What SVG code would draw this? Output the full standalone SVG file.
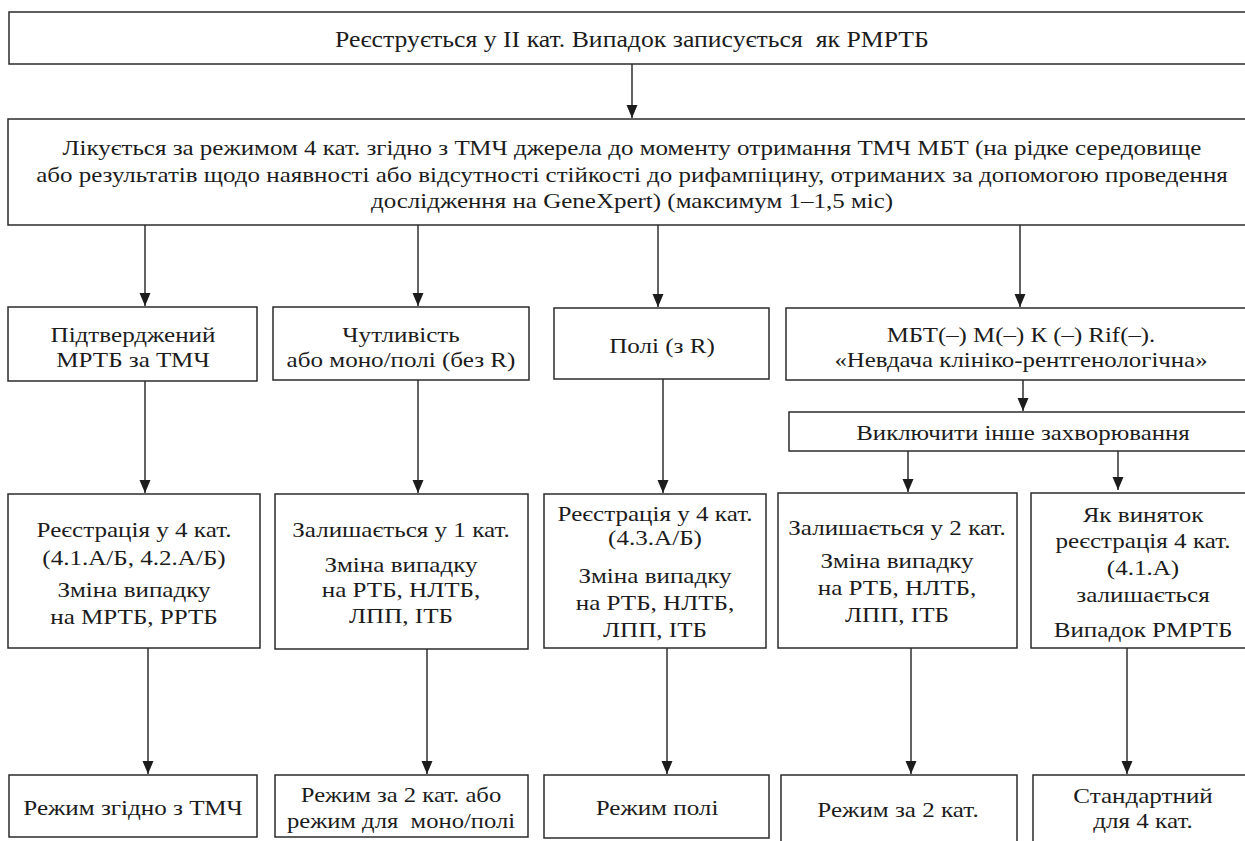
<svg xmlns="http://www.w3.org/2000/svg" width="1245" height="841" viewBox="0 0 1245 841">
<style>
.b{fill:#fff;stroke:#2b2b2b;stroke-width:1.5}
.t{font-family:"Liberation Serif","Times New Roman",serif;font-size:22px;fill:#1c1c1c;text-anchor:middle}
.s{font-size:21px}
.l{font-size:23px}
.c{stroke:#222;stroke-width:1.4;fill:none;marker-end:url(#ah)}
</style>
<defs>
<marker id="ah" markerUnits="userSpaceOnUse" markerWidth="14" markerHeight="12" refX="13" refY="6" orient="auto">
<path d="M0,0.5 L13,6 L0,11.5 Z" fill="#1c1c1c"/>
</marker>
</defs>
<rect width="1245" height="841" fill="#fff"/>
<g id="connectors">
<line class="c" x1="632" y1="64" x2="632" y2="118"/>
<line class="c" x1="145" y1="225" x2="145" y2="306"/>
<line class="c" x1="418" y1="225" x2="418" y2="306"/>
<line class="c" x1="658" y1="225" x2="658" y2="307"/>
<line class="c" x1="1020" y1="225" x2="1020" y2="307"/>
<line class="c" x1="145" y1="381" x2="145" y2="493"/>
<line class="c" x1="418" y1="380" x2="418" y2="493"/>
<line class="c" x1="663" y1="379" x2="663" y2="493"/>
<line class="c" x1="1023" y1="380" x2="1023" y2="411"/>
<line class="c" x1="908" y1="451" x2="908" y2="492"/>
<line class="c" x1="1118" y1="451" x2="1118" y2="490"/>
<line class="c" x1="148" y1="648" x2="148" y2="774"/>
<line class="c" x1="427" y1="649" x2="427" y2="774"/>
<line class="c" x1="667" y1="648" x2="667" y2="774"/>
<line class="c" x1="911" y1="648" x2="911" y2="774"/>
<line class="c" x1="1127" y1="648" x2="1127" y2="774"/>
</g>
<g id="n-top">
<rect class="b" x="9" y="12" width="1260" height="52"/>
<text class="t l" xml:space="preserve" transform="translate(632 0) scale(1.12 1)"><tspan x="0" y="47">Реєструється у ІІ кат. Випадок записується  як РМРТБ</tspan></text>
</g>
<g id="n-treat">
<rect class="b" x="8" y="119" width="1260" height="106"/>
<text class="t s" transform="translate(632 0) scale(1.19 1)"><tspan x="0" y="155">Лікується за режимом 4 кат. згідно з ТМЧ джерела до моменту отримання ТМЧ МБТ (на рідке середовище</tspan><tspan x="0" y="182">або результатів щодо наявності або відсутності стійкості до рифампіцину, отриманих за допомогою проведення</tspan><tspan x="0" y="208">дослідження на GeneXpert) (максимум 1–1,5 міс)</tspan></text>
</g>
<g id="n-a3">
<rect class="b" x="8" y="307" width="249" height="74"/>
<text class="t" transform="translate(133 0) scale(1.14 1)"><tspan x="0" y="342">Підтверджений</tspan><tspan x="0" y="367">МРТБ за ТМЧ</tspan></text>
</g>
<g id="n-b3">
<rect class="b" x="273" y="307" width="256" height="73"/>
<text class="t" transform="translate(401 0) scale(1.14 1)"><tspan x="0" y="342">Чутливість</tspan><tspan x="0" y="367">або моно/полі (без R)</tspan></text>
</g>
<g id="n-c3">
<rect class="b" x="554" y="308" width="215" height="71"/>
<text class="t" transform="translate(662 0) scale(1.14 1)"><tspan x="0" y="353">Полі (з R)</tspan></text>
</g>
<g id="n-d3">
<rect class="b" x="786" y="308" width="480" height="72"/>
<text class="t" transform="translate(1021 0) scale(1.13 1)"><tspan x="0" y="342">МБТ(–) М(–) К (–) Rif(–).</tspan><tspan x="0" y="367">«Невдача клініко-рентгенологічна»</tspan></text>
</g>
<g id="n-excl">
<rect class="b" x="789" y="412" width="480" height="39"/>
<text class="t" transform="translate(1023 0) scale(1.13 1)"><tspan x="0" y="440">Виключити інше захворювання</tspan></text>
</g>
<g id="n-a4">
<rect class="b" x="8" y="494" width="252" height="154"/>
<text class="t" transform="translate(134 0) scale(1.14 1)"><tspan x="0" y="537">Реєстрація у 4 кат.</tspan><tspan x="0" y="565">(4.1.А/Б, 4.2.А/Б)</tspan><tspan x="0" y="597">Зміна випадку</tspan><tspan x="0" y="624">на МРТБ, РРТБ</tspan></text>
</g>
<g id="n-b4">
<rect class="b" x="275" y="494" width="253" height="155"/>
<text class="t" transform="translate(401 0) scale(1.14 1)"><tspan x="0" y="537">Залишається у 1 кат.</tspan><tspan x="0" y="572">Зміна випадку</tspan><tspan x="0" y="597">на РТБ, НЛТБ,</tspan><tspan x="0" y="623">ЛПП, ІТБ</tspan></text>
</g>
<g id="n-c4">
<rect class="b" x="544" y="494" width="222" height="154"/>
<text class="t" transform="translate(655 0) scale(1.14 1)"><tspan x="0" y="521">Реєстрація у 4 кат.</tspan><tspan x="0" y="545">(4.3.А/Б)</tspan><tspan x="0" y="583">Зміна випадку</tspan><tspan x="0" y="610">на РТБ, НЛТБ,</tspan><tspan x="0" y="637">ЛПП, ІТБ</tspan></text>
</g>
<g id="n-d4">
<rect class="b" x="778" y="493" width="239" height="155"/>
<text class="t" transform="translate(897 0) scale(1.14 1)"><tspan x="0" y="535">Залишається у 2 кат.</tspan><tspan x="0" y="568">Зміна випадку</tspan><tspan x="0" y="595">на РТБ, НЛТБ,</tspan><tspan x="0" y="622">ЛПП, ІТБ</tspan></text>
</g>
<g id="n-e4">
<rect class="b" x="1031" y="493" width="240" height="155"/>
<text class="t" transform="translate(1143 0) scale(1.14 1)"><tspan x="0" y="522">Як виняток</tspan><tspan x="0" y="548">реєстрація 4 кат.</tspan><tspan x="0" y="575">(4.1.А)</tspan><tspan x="0" y="602">залишається</tspan><tspan x="0" y="637">Випадок РМРТБ</tspan></text>
</g>
<g id="n-a5">
<rect class="b" x="9" y="775" width="248" height="62"/>
<text class="t" transform="translate(133 0) scale(1.14 1)"><tspan x="0" y="815">Режим згідно з ТМЧ</tspan></text>
</g>
<g id="n-b5">
<rect class="b" x="275" y="775" width="253" height="62"/>
<text class="t" xml:space="preserve" transform="translate(401 0) scale(1.12 1)"><tspan x="0" y="802">Режим за 2 кат. або</tspan><tspan x="0" y="828">режим для  моно/полі</tspan></text>
</g>
<g id="n-c5">
<rect class="b" x="544" y="775" width="225" height="63"/>
<text class="t" transform="translate(657 0) scale(1.14 1)"><tspan x="0" y="815">Режим полі</tspan></text>
</g>
<g id="n-d5">
<rect class="b" x="781" y="775" width="236" height="80"/>
<text class="t" transform="translate(898 0) scale(1.14 1)"><tspan x="0" y="817">Режим за 2 кат.</tspan></text>
</g>
<g id="n-e5">
<rect class="b" x="1033" y="775" width="240" height="80"/>
<text class="t" transform="translate(1143 0) scale(1.14 1)"><tspan x="0" y="803">Стандартний</tspan><tspan x="0" y="828">для 4 кат.</tspan></text>
</g>
</svg>
